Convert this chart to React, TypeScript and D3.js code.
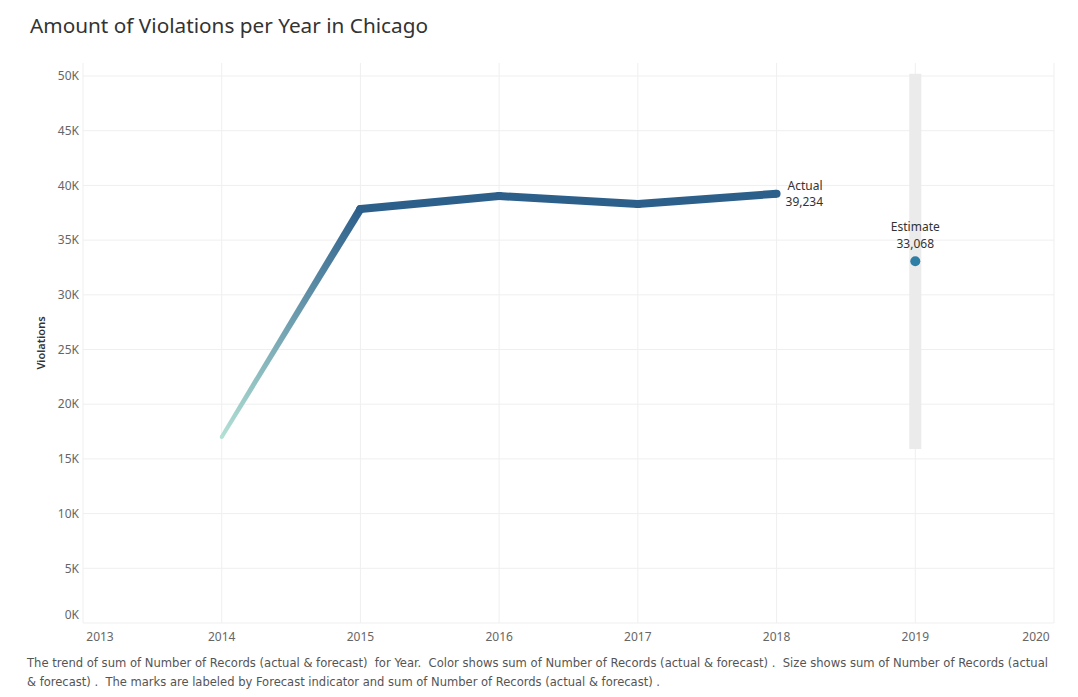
import React from "react";
import * as d3 from "d3";

const years = [2014, 2015, 2016, 2017, 2018];
const violations = [17000, 37850, 39030, 38300, 39234];
const estimateYear = 2019;
const estimateValue = 33068;
const estimateUpper = 50200;
const estimateLower = 15900;
const xTicks = [2013, 2014, 2015, 2016, 2017, 2018, 2019, 2020];
const yTicks = [0, 5000, 10000, 15000, 20000, 25000, 30000, 35000, 40000, 45000, 50000];
const title = "Amount of Violations per Year in Chicago";
const caption1 =
  "The trend of sum of Number of Records (actual & forecast)  for Year.  Color shows sum of Number of Records (actual & forecast) .  Size shows sum of Number of Records (actual";
const caption2 =
  "& forecast) .  The marks are labeled by Forecast indicator and sum of Number of Records (actual & forecast) .";

const W = 1078;
const H = 697;
const left = 83;
const right = 1054;
const top = 63;
const bottom = 623;

export default function App() {
  const x = d3.scaleLinear().domain([2013, 2020]).range([left, right]);
  const y = d3.scaleLinear().domain([0, 50000]).range([bottom, 76]);
  const color = d3
    .scaleLinear<string>()
    .domain([17000, 37850])
    .range(["#b2e0d4", "#2d5f8b"])
    .clamp(true);
  const size = d3.scaleLinear().domain([17000, 37850]).range([4, 8]).clamp(true);

  const pts = years.map((yr, i) => ({ x: x(yr), y: y(violations[i]), v: violations[i] }));

  const segs = [] as any[];
  for (let i = 0; i < pts.length - 1; i++) {
    const a = pts[i];
    const b = pts[i + 1];
    const dx = b.x - a.x;
    const dy = b.y - a.y;
    const len = Math.hypot(dx, dy);
    const nx = -dy / len;
    const ny = dx / len;
    const wa = size(a.v) / 2;
    const wb = size(b.v) / 2;
    const poly = [
      [a.x + nx * wa, a.y + ny * wa],
      [b.x + nx * wb, b.y + ny * wb],
      [b.x - nx * wb, b.y - ny * wb],
      [a.x - nx * wa, a.y - ny * wa],
    ];
    segs.push({ a, b, poly, wa, wb, id: "g" + i });
  }

  const fontUI = "'Noto Sans', 'Open Sans', sans-serif";
  const fontNarrow = "'Liberation Sans Narrow', 'DejaVu Sans Condensed', 'Liberation Sans', sans-serif";

  return (
    <svg width={W} height={H} style={{ position: "absolute", left: 0, top: 0, background: "#fff" }}>
      <defs>
        {segs.map((s) => (
          <linearGradient
            key={s.id}
            id={s.id}
            gradientUnits="userSpaceOnUse"
            x1={s.a.x}
            y1={s.a.y}
            x2={s.b.x}
            y2={s.b.y}
          >
            <stop offset="0%" stopColor={color(s.a.v)} />
            <stop offset="100%" stopColor={color(s.b.v)} />
          </linearGradient>
        ))}
      </defs>
      <text x={30} y={33} fontFamily={fontUI} fontSize={19.5} fill="#333" textLength={398} lengthAdjust="spacingAndGlyphs">
        {title}
      </text>

      {yTicks.map((t) => (
        <line key={"h" + t} x1={left} x2={right} y1={y(t)} y2={y(t)} stroke="#efefef" strokeWidth={1} />
      ))}
      {xTicks.map((t) => (
        <line key={"v" + t} x1={x(t)} x2={x(t)} y1={top} y2={bottom} stroke="#efefef" strokeWidth={1} />
      ))}

      {yTicks.map((t) => (
        <text
          key={"yl" + t}
          x={79}
          y={t === 0 ? y(t) - 8 : y(t)}
          dy="0.35em"
          textAnchor="end"
          fontFamily={fontUI}
          fontSize={12}
          fill="#666"
        >
          {d3.format("d")(t / 1000) + "K"}
        </text>
      ))}
      {xTicks.map((t, i) => (
        <text
          key={"xl" + t}
          x={i === 0 ? x(t) + 17 : i === xTicks.length - 1 ? x(t) - 18 : x(t)}
          y={641}
          textAnchor="middle"
          fontFamily={fontUI}
          fontSize={12}
          fill="#666"
        >
          {t}
        </text>
      ))}

      <text
        transform={`translate(45,${(top + bottom) / 2}) rotate(-90)`}
        textAnchor="middle"
        fontFamily={fontUI}
        fontSize={11}
        fontWeight={600}
        fill="#333"
      >
        Violations
      </text>

      <rect
        x={x(estimateYear) - 6}
        y={y(estimateUpper)}
        width={12}
        height={y(estimateLower) - y(estimateUpper)}
        fill="#ebebeb"
      />

      {segs.map((s) => (
        <g key={"s" + s.id}>
          <polygon points={s.poly.map((p: number[]) => p.join(",")).join(" ")} fill={`url(#${s.id})`} />
          <circle cx={s.a.x} cy={s.a.y} r={s.wa} fill={color(s.a.v)} />
          <circle cx={s.b.x} cy={s.b.y} r={s.wb} fill={color(s.b.v)} />
        </g>
      ))}

      <circle cx={x(estimateYear)} cy={y(estimateValue)} r={5} fill="#2e7ea6" />

      <text x={x(2018) + 11} y={y(violations[4]) - 4} fontFamily={fontUI} fontSize={12} fill="#333">
        Actual
      </text>
      <text x={x(2018) + 9} y={y(violations[4]) + 12} fontFamily={fontUI} fontSize={12} fill="#333">
        {d3.format(",")(violations[4])}
      </text>
      <text x={x(estimateYear)} y={y(estimateValue) - 30} textAnchor="middle" fontFamily={fontUI} fontSize={12} fill="#333">
        Estimate
      </text>
      <text x={x(estimateYear)} y={y(estimateValue) - 13} textAnchor="middle" fontFamily={fontUI} fontSize={12} fill="#333">
        {d3.format(",")(estimateValue)}
      </text>

      <text x={27} y={667} fontFamily={fontNarrow} fontSize={12.5} fill="#555" textLength={1021} lengthAdjust="spacingAndGlyphs" style={{ whiteSpace: "pre" }}>
        {caption1}
      </text>
      <text x={27} y={686} fontFamily={fontNarrow} fontSize={12.5} fill="#555" textLength={633} lengthAdjust="spacingAndGlyphs" style={{ whiteSpace: "pre" }}>
        {caption2}
      </text>
    </svg>
  );
}
